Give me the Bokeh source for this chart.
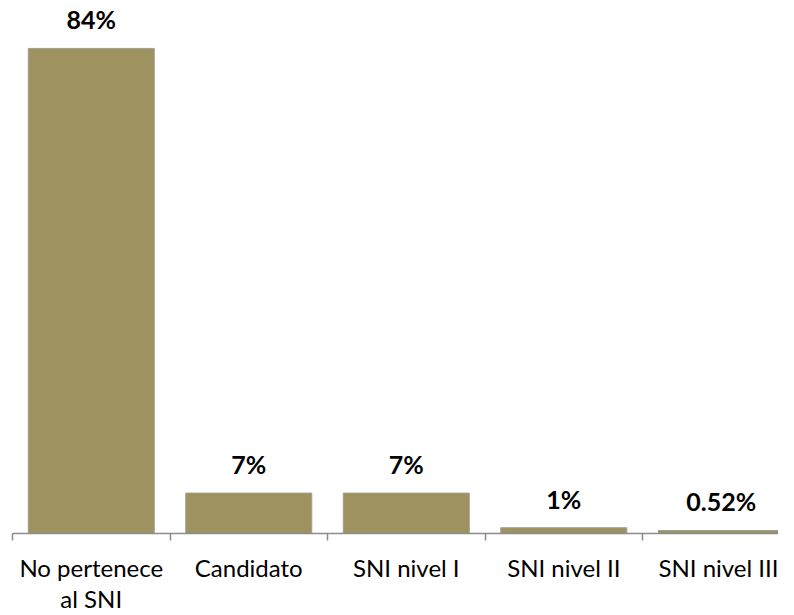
from bokeh.plotting import figure
from bokeh.models import Range1d, FixedTicker, LinearAxis, ColumnDataSource
from bokeh.core.properties import value
from bokeh.embed import file_html
from bokeh.resources import INLINE

categories = ["No pertenece\nal SNI", "Candidato", "SNI nivel I", "SNI nivel II", "SNI nivel III"]
values = [84, 7, 7, 1, 0.52]
value_labels = ["84%", "7%", "7%", "1%", "0.52%"]

xs = list(range(len(categories)))
boundaries = [i - 0.5 for i in range(len(categories) + 1)]
src = ColumnDataSource(dict(x=xs, top=values, lab=value_labels))

p = figure(width=778, height=615, output_backend="svg", toolbar_location=None,
           x_range=Range1d(-0.5, 4.363), y_range=Range1d(0, 92.3),
           min_border_left=12, min_border_right=0, min_border_top=0, min_border_bottom=0,
           x_axis_location=None, y_axis_location=None)
p.outline_line_color = None
p.grid.visible = False

p.vbar(x="x", top="top", width=0.8, bottom=0, source=src,
       fill_color="#9E925E", line_color="#A09E94", line_width=1)

p.text(x="x", y="top", text="lab", source=src, text_align="center",
       text_baseline="alphabetic", y_offset=-29,
       text_font=value("Lato"), text_font_style="bold",
       text_font_size="25px", text_color="#000000")

ax = LinearAxis(ticker=FixedTicker(ticks=xs, minor_ticks=boundaries))
ax.major_label_overrides = {i: c for i, c in zip(xs, categories)}
ax.major_tick_in = 0
ax.major_tick_out = 0
ax.major_tick_line_color = None
ax.minor_tick_in = 0
ax.minor_tick_out = 7
ax.minor_tick_line_color = "#8C8C8C"
ax.minor_tick_line_width = 1.5
ax.axis_line_color = "#8C8C8C"
ax.axis_line_width = 1.5
ax.major_label_text_font = "Lato"
ax.major_label_text_font_size = "24px"
ax.major_label_text_color = "#000000"
ax.major_label_text_line_height = 1.08
ax.major_label_standoff = 12

p.below = [ax]

open("out.html", "w").write(file_html(p, INLINE))
